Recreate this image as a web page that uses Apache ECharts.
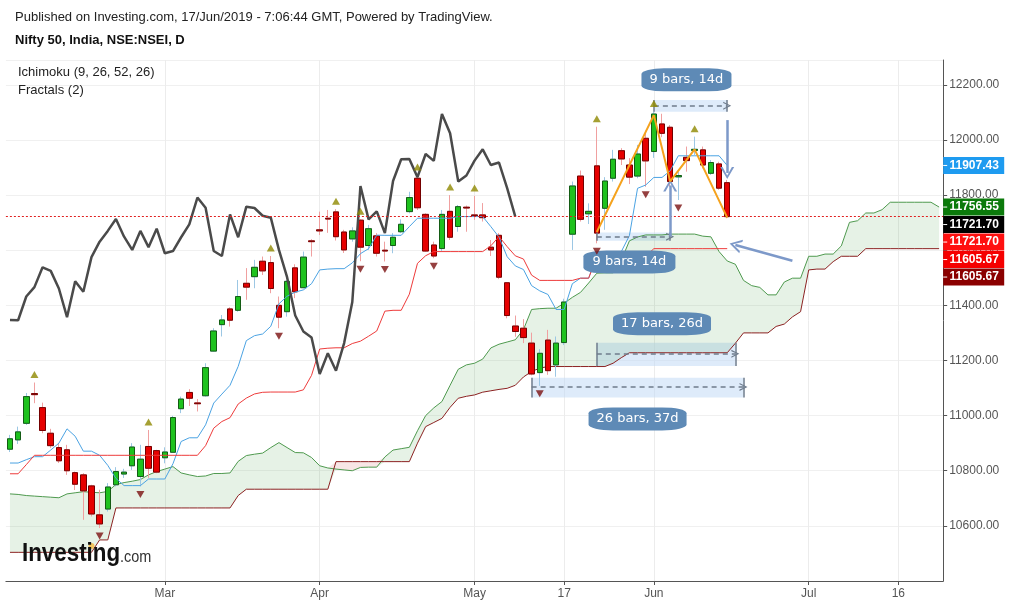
<!DOCTYPE html>
<html>
<head>
<meta charset="utf-8">
<script src="https://cdn.jsdelivr.net/npm/echarts@6/dist/echarts.min.js"></script>
<style>html,body{margin:0;padding:0;background:#fff}#c{width:1011px;height:607px}</style>
</head>
<body>
<div id="c"></div>
<script>
// ---------- categories (trading days + 26 projected days) ----------
const dates = [
'02-04','02-05','02-06','02-07','02-08','02-11','02-12','02-13','02-14','02-15',
'02-18','02-19','02-20','02-21','02-22','02-25','02-26','02-27','02-28','03-01',
'03-05','03-06','03-07','03-08','03-11','03-12','03-13','03-14','03-15','03-18',
'03-19','03-20','03-22','03-25','03-26','03-27','03-28','03-29','04-01','04-02',
'04-03','04-04','04-05','04-08','04-09','04-10','04-11','04-12','04-15','04-16',
'04-18','04-22','04-23','04-24','04-25','04-26','04-30','05-02','05-03','05-06',
'05-07','05-08','05-09','05-10','05-13','05-14','05-15','05-16','05-17','05-20',
'05-21','05-22','05-23','05-24','05-27','05-28','05-29','05-30','05-31','06-03',
'06-04','06-06','06-07','06-10','06-11','06-12','06-13','06-14','06-17','06-18',
'06-19','06-20','06-21','06-24','06-25','06-26','06-27','06-28','07-01','07-02',
'07-03','07-04','07-05','07-08','07-09','07-10','07-11','07-12','07-15','07-16',
'07-17','07-18','07-19','07-22','07-23'];
const tickLabels = {'03-01':'Mar','04-01':'Apr','05-02':'May','05-17':'17','06-03':'Jun','07-01':'Jul','07-16':'16'};

// ---------- OHLC ----------
const opens = [
10878,10912,10972,11080,11029,10936,10884,10876,10793,10785,
10745,10640,10661,10749,10788,10818,10779,10888,10873,10847,
10867,11025,11084,11046,11072,11234,11330,11387,11382,11480,
11504,11560,11555,11400,11377,11536,11464,11634,11674,11716,
11739,11666,11641,11709,11617,11652,11600,11617,11667,11740,
11861,11730,11619,11606,11741,11686,11756,11728,11728,11611,
11654,11482,11325,11317,11263,11156,11274,11184,11265,11658,
11869,11732,11906,11752,11861,11961,11909,11869,12006,11958,
12058,12046,11866,11937,11962,11964,11879,11913,11845];
const highs = [
10930,10960,11082,11120,11047,10952,10900,10894,10797,10791,
10749,10731,10755,10813,10807,10900,10894,10948,10876,10885,
10999,11069,11096,11060,11190,11317,11365,11393,11492,11535,
11565,11577,11579,11432,11492,11549,11595,11640,11740,11746,
11749,11674,11683,11712,11692,11662,11631,11662,11712,11812,
11873,11734,11631,11746,11800,11764,11762,11797,11771,11637,
11662,11484,11363,11350,11301,11241,11311,11287,11424,11849,
11889,11770,12048,11865,11964,11970,11934,11982,12034,12103,
12095,12054,11885,11976,12012,11976,11927,11921,11855];
const lows = [
10868,10897,10966,11045,10936,10883,10828,10785,10730,10622,
10634,10592,10652,10743,10774,10803,10743,10774,10791,10827,
10865,11009,11035,11015,11069,11232,11287,11323,11377,11420,
11462,11510,11444,11317,11359,11426,11462,11577,11655,11663,
11635,11590,11631,11560,11601,11577,11559,11589,11662,11734,
11746,11595,11571,11595,11637,11667,11667,11710,11704,11579,
11495,11353,11286,11263,11146,11108,11148,11141,11256,11601,
11704,11695,11625,11674,11849,11909,11840,11861,11830,11935,
12010,11831,11782,11885,11945,11897,11873,11819,11716];
const closes = [
10916,10941,11069,11076,10946,10891,10836,10800,10751,10727,
10643,10607,10741,10797,10795,10886,10842,10809,10795,10868,
10993,11060,11063,11043,11174,11307,11347,11346,11432,11466,
11538,11525,11461,11357,11487,11449,11575,11631,11670,11713,
11649,11601,11670,11611,11678,11589,11597,11647,11694,11791,
11754,11597,11579,11730,11647,11758,11753,11725,11718,11601,
11502,11363,11305,11283,11151,11226,11163,11263,11412,11833,
11712,11741,11662,11851,11930,11931,11865,11949,11924,12094,
12024,11849,11871,11925,11966,11909,11918,11825,11721.70];

// ---------- Ichimoku ----------
const tenkan = [
10828,10828,10840,10851,10851,10875,10900,10952,10925,10871,
10871,10856,10819.5,10772,10746,10746,10746,10770,10770,10770,
10825.5,10906,10919.5,10919.5,10966.5,11045.5,11078,11110,11178.5,11272,
11290,11296,11324,11405.5,11433,11448,11456,11478.5,11528.5,11531.5,
11533,11533,11554,11587.5,11605.5,11654.5,11654,11654,11654,11685.5,
11716,11716,11716,11716,11716,11722,11722,11722,11722,11685.5,
11647.5,11576.5,11543,11530,11471.5,11452.5,11439.5,11385,11385,11478.5,
11498.5,11498.5,11578,11578,11594.5,11594.5,11653,11824.5,11836.5,11864,
11864,11888,11942.5,11942.5,11942.5,11942.5,11942.5,11942.5,11907.43];
const kijun = [
10789,10789,10822,10856,10856,10856,10856,10856,10856,10856,
10856,10856,10856,10856,10856,10856,10856,10856,10856,10856,
10856,10856,10856,10856,10891,10954.5,10978.5,10992.5,11042,11063.5,
11078.5,11084.5,11085.5,11085.5,11085.5,11085.5,11093.5,11146,11241.5,11244.5,
11246,11246,11261.5,11270,11288,11307,11379,11382,11382,11440.5,
11552.5,11580,11595,11595,11595,11595,11595,11595,11595,11616,
11649.5,11613,11579.5,11568,11509.5,11490.5,11490.5,11490.5,11490.5,11490.5,
11498.5,11498.5,11578,11578,11578,11578,11578,11578,11578,11605.67,
11605.67,11605.67,11605.67,11605.67,11605.67,11605.67,11605.67,11605.67,11605.67];
const senkouA = [
10716,10714,10710,10708,10706,10704,10702,10716,10720,10724,
10722,10720,10725,10750,10757,10762,10768,10785,10797,10806,
10815,10792,10785,10779,10781,10790,10790,10792,10834,10855,
10860,10864,10884,10902,10884,10866,10865,10848,10818,10810,
10806,10803,10800,10812,10813,10813,10850,10875,10880,10885,
10945,11000,11028,11051,11110,11168,11184,11190,11205,11245.5,
11259,11267,11275,11312,11385,11388,11389.5,11389.5,11408,11429,
11447,11481,11516.5,11518,11518,11563,11634,11648,11655.5,11655.5,
11655.5,11658.5,11658.5,11658.5,11658.5,11651,11648.5,11595,11561,11549,
11490.5,11471.5,11465,11438,11438,11484.5,11498.5,11498.5,11578,11578,
11586,11586,11615.5,11701,11707,11735,11735,11747,11774,11774,
11774,11774,11774,11774,11756.55];
const senkouB = [
10504,10504,10504,10504,10504,10504,10504,10504,10504,10504,
10504,10549,10549,10665,10665,10665,10665,10665,10665,10665,
10665,10665,10665,10665,10665,10665,10665,10665,10710,10733,
10733,10733,10733,10733,10733,10733,10733,10733,10733,10733,
10833,10833,10833,10833,10833,10833,10833,10833,10833,10833,
10900,10960,10975,10990,11030,11063,11070,11075,11085,11090,
11095,11099,11110,11140,11160,11172,11178,11178,11178,11178,
11178,11178,11178,11178,11190,11210,11228,11228,11228,11228,
11228,11228,11228,11228,11228,11228,11228,11228,11228,11262.5,
11300,11300,11300,11300,11323.5,11332,11358,11377,11528.5,11531.5,
11531.5,11558.5,11578,11578,11578,11605.67,11605.67,11605.67,11605.67,11605.67,
11605.67,11605.67,11605.67,11605.67,11605.67];
const chikouShift = 26;

// ---------- Fractals (bar indices) ----------
const upFractals = [3,17,32,40,43,50,54,57,72,79,84];
const downFractals = [11,16,33,43,46,52,65,72,78,82];

// ---------- Drawings ----------
const zigzag = [[72,11666],[79,12090],[81,11850],[84,11966],[88,11718]];
const bands = [
  {from:79, to:88, top:12145, bottom:12102, line:12124, label:'9 bars, 14d', at:[83,12218], w:90},
  {from:72, to:81, top:11664, bottom:11634, line:11649, label:'9 bars, 14d', at:[76,11557], w:92},
  {from:72, to:89, top:11264, bottom:11180, line:11224, label:'17 bars, 26d', at:[80,11333], w:98},
  {from:64, to:90, top:11137, bottom:11066, line:11104, label:'26 bars, 37d', at:[77,10988], w:98}
];
const arrows = [
  {from:[81,11650], to:[81,11835]},
  {from:[88,12072], to:[88,11880]},
  {from:[96,11562], to:[89,11619]}
];
const anchorDot = [10,10527];

// ---------- build ----------
const FONT = "'Liberation Sans', Arial, sans-serif";
const chart = echarts.init(document.getElementById('c'));
const wickData = opens.map((o,i)=>[o, closes[i], lows[i], highs[i]]);
const bodyData = opens.map((o,i)=>[o, closes[i], Math.min(o,closes[i]), Math.max(o,closes[i])]);
const chikou = closes.slice(chikouShift);
const cloudBase = senkouA.map((a,i)=>Math.min(a, senkouB[i]));
const cloudGreen = senkouA.map((a,i)=>Math.max(a - senkouB[i], 0));
const cloudRed = senkouA.map((a,i)=>Math.max(senkouB[i] - a, 0));
const isTick = (idx, val) => Object.prototype.hasOwnProperty.call(tickLabels, val);
const chevron = 'path://M0,12L6,0L12,12L10,12L6,3.5L2,12Z';

const annotationLines = [];
bands.forEach(b=>{
  annotationLines.push([{coord:[dates[b.from], b.line], symbol:'none'},
                        {coord:[dates[b.to], b.line], symbol:chevron, symbolSize:[8,8]}]);
  annotationLines.push([{coord:[dates[b.from], b.top], symbol:'none', lineStyle:{type:'solid'}},
                        {coord:[dates[b.from], b.bottom], symbol:'none'}]);
  annotationLines.push([{coord:[dates[b.to], b.top], symbol:'none', lineStyle:{type:'solid'}},
                        {coord:[dates[b.to], b.bottom], symbol:'none'}]);
});
const arrowLines = arrows.map(a=>[
  {coord:[dates[a.from[0]], a.from[1]], symbol:'none'},
  {coord:[dates[a.to[0]], a.to[1]], symbol:chevron, symbolSize:[14,12]}
]);

const option = {
  animation:false,
  backgroundColor:'#ffffff',
  grid:{left:5.9, right:67.8, top:60, bottom:26, show:false},
  xAxis:{
    type:'category', data:dates, boundaryGap:true,
    axisLine:{show:true, lineStyle:{color:'#555', width:1}},
    axisTick:{show:true, interval:isTick, alignWithLabel:true, length:4, lineStyle:{color:'#555'}},
    axisLabel:{interval:isTick, formatter:(v)=>tickLabels[v]||'', color:'#555', fontSize:12,
               fontFamily:FONT, margin:7},
    splitLine:{show:false}
  },
  yAxis:{
    type:'value', position:'right', min:10400, max:12290, interval:200, scale:true,
    axisLine:{show:true, lineStyle:{color:'#555', width:1}},
    axisTick:{show:true, length:4, lineStyle:{color:'#555'}},
    axisLabel:{color:'#555', fontSize:12, fontFamily:FONT, margin:6, showMinLabel:false, showMaxLabel:false,
               formatter:(v)=>v.toFixed(2)},
    splitLine:{show:true, lineStyle:{color:'#f0f0f0', width:1}}
  },
  graphic:[
    {type:'text', z:100, left:15, top:11, style:{text:'Published on Investing.com, 17/Jun/2019 - 7:06:44 GMT, Powered by TradingView.', font:'13px '+FONT, fill:'#222'}},
    {type:'text', z:100, left:15, top:34, style:{text:'Nifty 50, India, NSE:NSEI, D', font:'bold 13px '+FONT, fill:'#111'}},
    {type:'text', z:100, left:18, top:66, style:{text:'Ichimoku (9, 26, 52, 26)', font:'13px '+FONT, fill:'#222'}},
    {type:'text', z:100, left:18, top:84, style:{text:'Fractals (2)', font:'13px '+FONT, fill:'#222'}},
    {type:'text', z:100, x:22, y:541, scaleX:0.86, style:{text:'Investing', font:'bold 26px '+FONT, fill:'#111', verticalAlign:'top'}},
    {type:'text', z:100, x:120, y:549, scaleX:0.85, style:{text:'.com', font:'17px '+FONT, fill:'#333', verticalAlign:'top'}}
  ],
  series:[
    {name:'grid-v', type:'line', data:[], z:0, silent:true,
     markLine:{silent:true, z:0, symbol:'none', label:{show:false}, lineStyle:{color:'#ececec', width:1, type:'solid'},
               data:Object.keys(tickLabels).map(d=>({xAxis:d}))}},
    {name:'cloudBase', type:'line', data:cloudBase, stack:'cloud', symbol:'none', silent:true,
     lineStyle:{opacity:0}, z:1},
    {name:'cloudGreen', type:'line', data:cloudGreen, stack:'cloud', symbol:'none', silent:true,
     lineStyle:{opacity:0}, areaStyle:{color:'rgba(76,160,76,0.14)', opacity:1}, z:1},
    {name:'cloudRed', type:'line', data:cloudRed, stack:'cloud', symbol:'none', silent:true,
     lineStyle:{opacity:0}, areaStyle:{color:'rgba(200,60,60,0.13)', opacity:1}, z:1},
    {name:'Senkou A', type:'line', data:senkouA, symbol:'none', lineStyle:{color:'#4f9a4f', width:1}, z:2},
    {name:'Senkou B', type:'line', data:senkouB, symbol:'none', lineStyle:{color:'#8c2222', width:1}, z:2},
    {name:'wicks', type:'candlestick', data:wickData, barWidth:6, z:3, silent:true,
     itemStyle:{color:'rgba(0,0,0,0)', color0:'rgba(0,0,0,0)', borderColor:'#9cc7e4', borderColor0:'#f0a0a0', borderWidth:1}},
    {name:'bodies', type:'candlestick', data:bodyData, barWidth:6, z:3,
     itemStyle:{color:'#1ec21e', color0:'#e60000', borderColor:'#145c14', borderColor0:'#740000', borderWidth:1},
     markLine:{silent:true, symbol:'none', label:{show:false},
               lineStyle:{color:'#e02020', type:[2,2], width:1},
               data:[{yAxis:closes[closes.length-1]}]}},
    {name:'Tenkan', type:'line', data:tenkan, symbol:'none', lineStyle:{color:'#4ba3e3', width:1}, z:4},
    {name:'Kijun', type:'line', data:kijun, symbol:'none', lineStyle:{color:'#ee3b3b', width:1}, z:4},
    {name:'Chikou', type:'line', data:chikou, symbol:'none', lineStyle:{color:'#4a4a4a', width:2.5}, z:4},
    {name:'upFractals', type:'scatter', data:upFractals.map(i=>[dates[i], highs[i]]),
     symbol:'triangle', symbolSize:[8,7], symbolOffset:[0,-8], itemStyle:{color:'#8f8800'}, z:5},
    {name:'downFractals', type:'scatter', data:downFractals.map(i=>[dates[i], lows[i]]),
     symbol:'triangle', symbolRotate:180, symbolSize:[8,7], symbolOffset:[0,8], itemStyle:{color:'#7a1010'}, z:5},
    {name:'zigzag', type:'line', data:zigzag.map(p=>[dates[p[0]], p[1]]), symbol:'none',
     lineStyle:{color:'#f5a21d', width:2}, z:6},
    {name:'anchor', type:'scatter', data:[[dates[anchorDot[0]], anchorDot[1]]], symbolSize:6,
     itemStyle:{color:'#f6b93b'}, z:6},
    {name:'bands', type:'line', data:[], z:6,
     markArea:{silent:true, itemStyle:{color:'rgba(190,215,245,0.5)'},
               data:bands.map(b=>[{coord:[dates[b.from], b.top]}, {coord:[dates[b.to], b.bottom]}])},
     markLine:{silent:true, label:{show:false}, symbol:'none',
               lineStyle:{color:'#6f7c8c', width:1.5, type:[5,4]}, data:annotationLines}},
    {name:'arrows', type:'line', data:[], z:7,
     markLine:{silent:true, label:{show:false}, symbol:'none',
               lineStyle:{color:'#7d99c9', width:2.5, type:'solid'}, data:arrowLines}},
    {name:'labels', type:'line', data:[], z:8,
     markPoint:{silent:true,
       data:bands.map(b=>({name:b.label, coord:[dates[b.at[0]], b.at[1]], symbol:'roundRect', symbolSize:[b.w,23]})),
       itemStyle:{color:'#5e8ab6'},
       label:{show:true, formatter:'{b}', color:'#fff', fontSize:13, fontFamily:"'DejaVu Sans', Verdana, sans-serif"}}}
  ]
};
chart.setOption(option);

// ---------- right-axis price tags ----------
const tags = [
  {v:tenkan[tenkan.length-1], bg:'#1e9bf0'},
  {v:senkouA[senkouA.length-1], bg:'#0b7a0b'},
  {v:closes[closes.length-1], bg:'#000000'},
  {v:closes[closes.length-1], bg:'#ff1010'},
  {v:kijun[kijun.length-1], bg:'#f50000'},
  {v:senkouB[senkouB.length-1], bg:'#8b0000'}
];
const gridRight = chart.getWidth() - 67.8;
let prev = -Infinity;
const tagEls = [];
tags.forEach(t=>{
  let y = chart.convertToPixel({yAxisIndex:0}, t.v);
  y = Math.max(y, prev + 17.5);
  prev = y;
  tagEls.push({type:'rect', z:60, shape:{x:gridRight, y:y-8.5, width:61, height:17}, style:{fill:t.bg}});
  tagEls.push({type:'line', z:61, shape:{x1:gridRight, y1:y, x2:gridRight+4, y2:y}, style:{stroke:'#fff', lineWidth:1}});
  tagEls.push({type:'text', z:61, x:gridRight+31, y:y, style:{text:t.v.toFixed(2), font:'bold 12px '+FONT, fill:'#fff', align:'center', verticalAlign:'middle'}});
});
chart.setOption({graphic: option.graphic.concat(tagEls)});
</script>
</body>
</html>
